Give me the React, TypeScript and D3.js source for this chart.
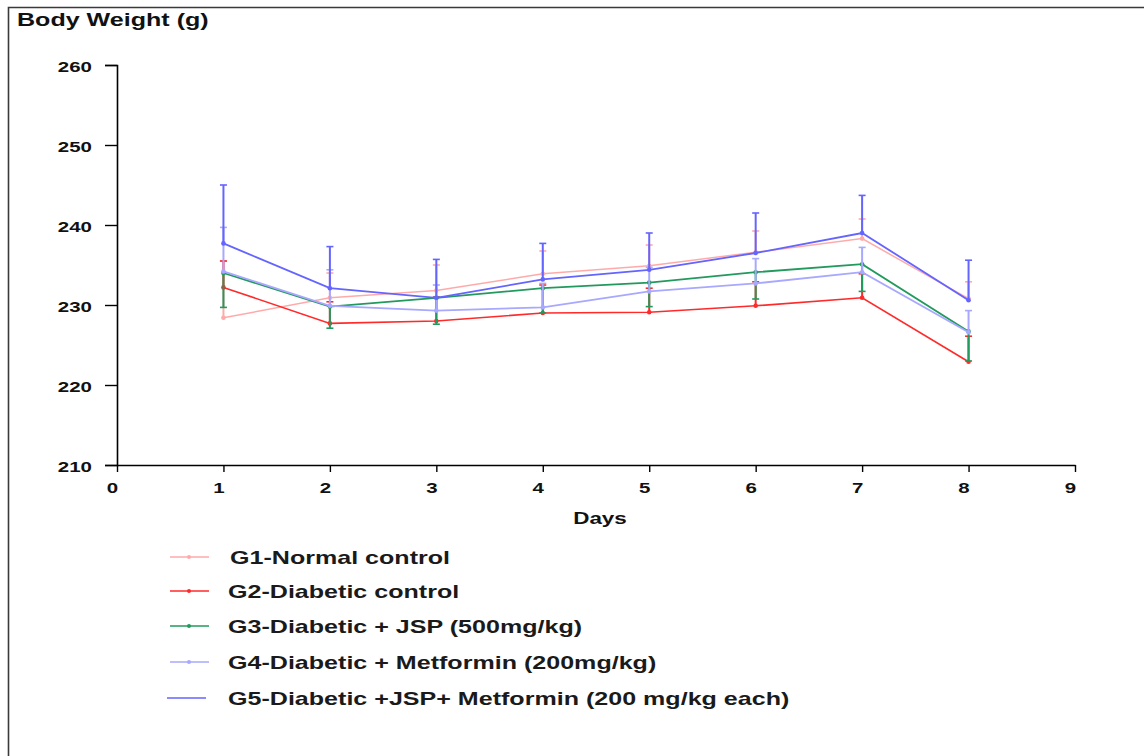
import React, { useEffect, useRef } from "react";
import * as d3 from "d3";

// days on the x axis
const days = [1, 2, 3, 4, 5, 6, 7, 8];

// mean body weight (g) per group
const g1Mean = [228.4, 230.9, 231.8, 233.9, 234.9, 236.6, 238.3, 230.8];
const g2Mean = [232.2, 227.7, 228.0, 229.0, 229.1, 229.9, 230.9, 222.9];
const g3Mean = [234.0, 229.8, 230.9, 232.1, 232.8, 234.1, 235.1, 226.7];
const g4Mean = [234.2, 229.9, 229.3, 229.7, 231.7, 232.7, 234.1, 226.6];
const g5Mean = [237.7, 232.1, 230.9, 233.2, 234.4, 236.5, 239.0, 230.6];

// error (SD) per group
const g1Err = [7.1, 3.1, 3.2, 2.85, 2.6, 2.65, 2.45, 2.1];
const g2Err = [3.3, 2.7, 3.0, 3.5, 3.0, 3.0, 3.0, 3.2];
const g3Err = [4.3, 2.7, 3.3, 3.1, 3.0, 3.35, 3.4, 3.7];
const g4Err = [5.5, 4.5, 3.2, 3.0, 3.0, 3.1, 3.1, 2.7];
const g5Err = [7.3, 5.2, 4.8, 4.5, 4.6, 5.0, 4.7, 5.0];

const groupNames = [
  "G1-Normal control",
  "G2-Diabetic control",
  "G3-Diabetic + JSP (500mg/kg)",
  "G4-Diabetic + Metformin (200mg/kg)",
  "G5-Diabetic +JSP+ Metformin (200 mg/kg each)",
];

const yTicks = [210, 220, 230, 240, 250, 260];
const xTicks = [0, 1, 2, 3, 4, 5, 6, 7, 8, 9];

const App = () => {
  const ref = useRef(null);

  useEffect(() => {
    const width = 1144;
    const height = 756;
    const sx = 1.32; // the original is stretched sideways
    const font = "'Liberation Sans', Arial, sans-serif";

    const groups = [
      { name: groupNames[0], mean: g1Mean, err: g1Err, dir: 1, color: "#ffaaaa", w: 1.5, dot: true },
      { name: groupNames[1], mean: g2Mean, err: g2Err, dir: 1, color: "#ff2a2a", w: 1.6, dot: true },
      { name: groupNames[2], mean: g3Mean, err: g3Err, dir: -1, color: "#229a5e", w: 1.8, dot: true },
      { name: groupNames[3], mean: g4Mean, err: g4Err, dir: 1, color: "#a8a8ff", w: 1.8, dot: true },
      { name: groupNames[4], mean: g5Mean, err: g5Err, dir: 1, color: "#6464ff", w: 1.8, dot: false },
    ];

    const x = d3.scaleLinear().domain([0, 9]).range([117, 1075]);
    const y = d3.scaleLinear().domain([210, 260]).range([465, 65]);

    const svg = d3.select(ref.current);
    svg.selectAll("*").remove();
    svg.attr("width", width).attr("height", height).style("font-family", font);

    svg.append("rect").attr("width", width).attr("height", height).attr("fill", "#fff");

    // frame
    svg.append("path")
      .attr("d", `M8.5,${height} L8.5,7.5 L${width},7.5`)
      .attr("fill", "none")
      .attr("stroke", "#3a3a3a")
      .attr("stroke-width", 1.6);

    // title
    svg.append("text")
      .attr("transform", `translate(17,26) scale(${sx},1)`)
      .attr("font-size", 19)
      .attr("font-weight", "bold")
      .attr("fill", "#111")
      .text("Body Weight (g)");

    // y axis
    const yAxis = svg.append("g")
      .attr("transform", `translate(${x(0)},0)`)
      .call(d3.axisLeft(y).tickValues(yTicks).tickSize(12).tickFormat(d3.format("d")));
    yAxis.select(".domain").attr("stroke", "#000").attr("stroke-width", 1.6);
    yAxis.selectAll(".tick line").attr("stroke", "#000").attr("stroke-width", 1.4);
    yAxis.selectAll(".tick text")
      .attr("x", null)
      .attr("dy", null)
      .attr("transform", `translate(-25,6) scale(${sx},1)`)
      .attr("font-size", 15.5)
      .attr("font-weight", "bold")
      .attr("fill", "#111")
      .style("font-family", font);

    // x axis
    const xAxis = svg.append("g")
      .attr("transform", `translate(0,${y(210)})`)
      .call(d3.axisBottom(x).tickValues(xTicks).tickSize(7).tickSizeOuter(0).tickFormat(d3.format("d")));
    xAxis.select(".domain").attr("stroke", "#000").attr("stroke-width", 1.6);
    xAxis.selectAll(".tick line").attr("stroke", "#000").attr("stroke-width", 1.4);
    xAxis.selectAll(".tick text")
      .attr("y", null)
      .attr("dy", null)
      .attr("transform", `translate(-5,28) scale(${sx},1)`)
      .attr("font-size", 15.5)
      .attr("font-weight", "bold")
      .attr("fill", "#111")
      .style("font-family", font);

    // x label
    svg.append("text")
      .attr("transform", `translate(600,524) scale(${sx},1)`)
      .attr("text-anchor", "middle")
      .attr("font-size", 17)
      .attr("font-weight", "bold")
      .attr("fill", "#111")
      .text("Days");

    const line = d3.line().x((d) => x(d[0])).y((d) => y(d[1]));

    groups.forEach((g) => {
      const pts = days.map((d, i) => [d, g.mean[i]]);
      const layer = svg.append("g");

      // error bars
      days.forEach((d, i) => {
        const end = g.mean[i] + g.dir * g.err[i];
        layer.append("line")
          .attr("x1", x(d)).attr("x2", x(d))
          .attr("y1", y(g.mean[i])).attr("y2", y(end))
          .attr("stroke", g.color).attr("stroke-width", 2);
        layer.append("line")
          .attr("x1", x(d) - 3.5).attr("x2", x(d) + 3.5)
          .attr("y1", y(end)).attr("y2", y(end))
          .attr("stroke", g.color).attr("stroke-width", 1.6);
      });

      layer.append("path")
        .attr("d", line(pts))
        .attr("fill", "none")
        .attr("stroke", g.color)
        .attr("stroke-width", g.w);

      layer.selectAll("circle")
        .data(pts)
        .join("circle")
        .attr("cx", (d) => x(d[0]))
        .attr("cy", (d) => y(d[1]))
        .attr("r", 2.3)
        .attr("fill", g.color);
    });

    // legend
    const legY = [557, 591, 626, 662, 698];
    groups.forEach((g, i) => {
      const lx = i === 4 ? 167 : 170;
      const row = svg.append("g");
      row.append("line")
        .attr("x1", lx).attr("x2", lx + 39)
        .attr("y1", legY[i]).attr("y2", legY[i])
        .attr("stroke", g.color).attr("stroke-width", 1.6);
      if (g.dot) {
        row.append("circle").attr("cx", lx + 19).attr("cy", legY[i]).attr("r", 2).attr("fill", g.color);
      }
      row.append("text")
        .attr("transform", `translate(${i === 0 ? 230 : 228},${legY[i] + 7}) scale(${sx},1)`)
        .attr("font-size", 19)
        .attr("font-weight", "bold")
        .attr("fill", "#1a1a1a")
        .text(g.name);
    });
  }, []);

  return (
    <div style={{ position: "absolute", left: 0, top: 0 }}>
      <svg ref={ref} style={{ display: "block" }} />
    </div>
  );
};

export default App;
